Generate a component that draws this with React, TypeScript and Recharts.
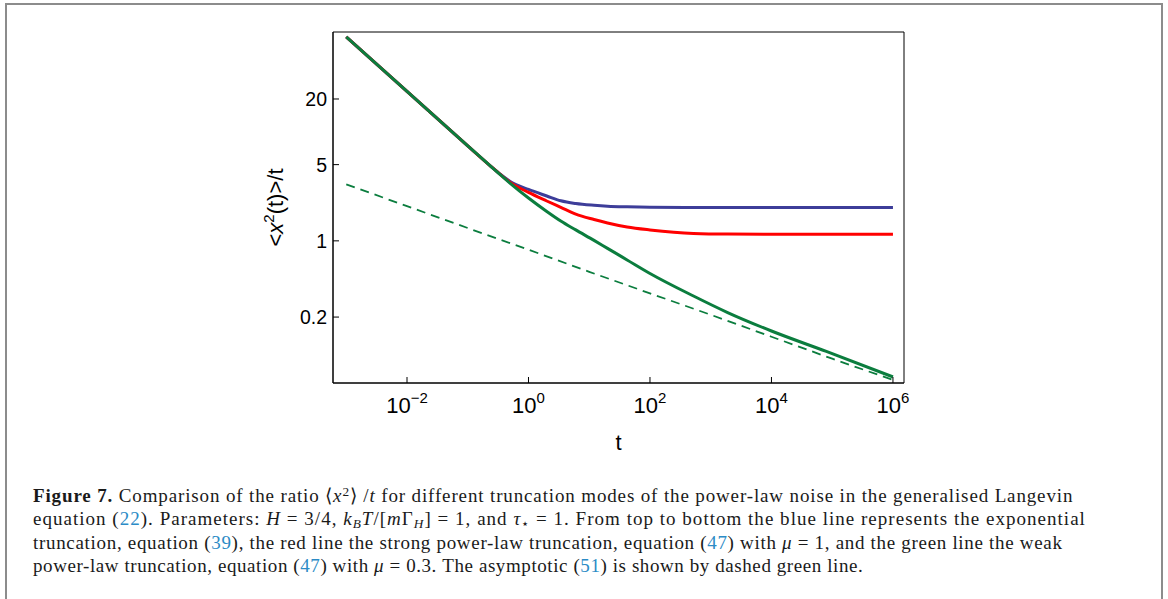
import React from "react";
import { LineChart, Line, XAxis, YAxis, ReferenceArea } from "recharts";

// time points (log spaced)
const tPoints = [0.001, 0.01, 0.1, 0.24, 0.35, 0.5, 1, 2, 3.4, 6, 12, 20, 42, 100, 520, 1900, 10000, 80000, 1000000];

// <x^2>/t for the three truncation modes
const blueExp = [74.1, 23.5, 7.43, 4.83, 4.06, 3.51, 2.96, 2.58, 2.33, 2.2, 2.12, 2.08, 2.05, 2.03, 2.02, 2.02, 2.02, 2.02, 2.02];
const redStrong = [74.1, 23.5, 7.43, 4.83, 4.03, 3.43, 2.78, 2.32, 2.03, 1.76, 1.57, 1.46, 1.34, 1.26, 1.17, 1.155, 1.152, 1.152, 1.152];
const greenWeak = [74.1, 23.5, 7.43, 4.83, 4.0, 3.37, 2.47, 1.86, 1.52, 1.26, 1.01, 0.853, 0.668, 0.502, 0.312, 0.22, 0.149, 0.0968, 0.0565];

// asymptotic (51), dashed
const asymT = [0.001, 0.01, 0.1, 1, 10, 100, 1000, 10000, 100000, 1000000];
const asymV = [3.3, 2.08, 1.31, 0.83, 0.52, 0.33, 0.21, 0.132, 0.083, 0.053];

const xTicks = [0.01, 1, 100, 10000, 1000000];
const yTicks = [0.2, 1, 5, 20];
const xDomain = [6.05e-4, 1.52e6];
const yDomain = [0.0497, 82.3];

const curves = tPoints.map((t, i) => ({
  t,
  blue: blueExp[i],
  red: redStrong[i],
  green: greenWeak[i],
}));
const asymData = asymT.map((t, i) => ({ t, asym: asymV[i] }));

const AXIS_FONT = "'Liberation Sans', Arial, sans-serif";
const SERIF = "'Liberation Serif', 'Times New Roman', serif";
const LINK = "#2b8bc6";

function XTick(props: any) {
  const { x, y, payload } = props;
  const exp = Math.round(Math.log10(payload.value));
  const sup = exp < 0 ? "\u2212" + Math.abs(exp) : String(exp);
  return (
    <g>
      <line x1={x} x2={x} y1={y} y2={y - 6} stroke="#000" strokeWidth={1} />
      <text x={x} y={y + 30} textAnchor="middle" fontFamily={AXIS_FONT} fontSize={22} fill="#000">
        <tspan>10</tspan>
        <tspan dy={-10} fontSize={15}>{sup}</tspan>
      </text>
    </g>
  );
}

function YTick(props: any) {
  const { x, y, payload } = props;
  return (
    <g>
      <line x1={x} x2={x + 6} y1={y} y2={y} stroke="#000" strokeWidth={1} />
      <text x={x - 6} y={y + 7} textAnchor="end" fontFamily={AXIS_FONT} fontSize={19.5} fill="#000">
        {String(payload.value)}
      </text>
    </g>
  );
}

function YTitle(props: any) {
  const vb = props.viewBox || { x: 273, y: 32, width: 60, height: 351 };
  const cx = vb.x + 10;
  const cy = vb.y + vb.height / 2;
  return (
    <text
      x={cx}
      y={cy}
      transform={`rotate(-90 ${cx} ${cy})`}
      textAnchor="middle"
      fontFamily={AXIS_FONT}
      fontSize={22}
      fill="#000"
    >
      <tspan>&lt;</tspan>
      <tspan fontStyle="italic">x</tspan>
      <tspan dy={-9} fontSize={15}>2</tspan>
      <tspan dy={9}>(t)&gt;/t</tspan>
    </text>
  );
}

const sup: React.CSSProperties = { fontSize: "0.7em", verticalAlign: "0.45em", lineHeight: 0 };
const sub: React.CSSProperties = { fontSize: "0.7em", verticalAlign: "-0.25em", lineHeight: 0 };
const lineBase: React.CSSProperties = {
  position: "absolute",
  left: 33,
  height: 23.3,
  lineHeight: "23.3px",
  whiteSpace: "nowrap",
};

function Caption() {
  const link = (s: string) => <span style={{ color: LINK }}>{s}</span>;
  return (
    <div style={{ fontFamily: SERIF, fontSize: 19, color: "#1a1a1a" }}>
      <div style={{ ...lineBase, top: 484, letterSpacing: "0.86px" }}>
        <b>Figure 7.</b> Comparison of the ratio ⟨<i>x</i><span style={sup}>2</span>⟩ /<i>t</i> for different
        truncation modes of the power-law noise in the generalised Langevin
      </div>
      <div style={{ ...lineBase, top: 507.3, letterSpacing: "1.02px" }}>
        equation ({link("22")}). Parameters: <i>H</i> = 3/4, <i>k</i>
        <span style={{ ...sub, fontStyle: "italic" }}>B</span>
        <i>T</i>/[<i>m</i>Γ<span style={{ ...sub, fontStyle: "italic" }}>H</span>] = 1, and <i>τ</i>
        <span style={sub}>⋆</span> = 1. From top to bottom the blue line represents the exponential
      </div>
      <div style={{ ...lineBase, top: 530.6, letterSpacing: "0.69px" }}>
        truncation, equation ({link("39")}), the red line the strong power-law truncation, equation ({link("47")}) with{" "}
        <i>μ</i> = 1, and the green line the weak
      </div>
      <div style={{ ...lineBase, top: 553.9, letterSpacing: "0.58px" }}>
        power-law truncation, equation ({link("47")}) with <i>μ</i> = 0.3. The asymptotic ({link("51")}) is shown by
        dashed green line.
      </div>
    </div>
  );
}

export default function App() {
  return (
    <div style={{ position: "absolute", left: 0, top: 0, width: 1168, height: 599, background: "#fff", overflow: "hidden" }}>
      <div
        style={{
          position: "absolute",
          left: 5,
          top: 3,
          width: 1154,
          height: 620,
          border: "2px solid #8c8c8c",
        }}
      />
      <div style={{ position: "absolute", left: 0, top: 0 }}>
        <LineChart width={1168} height={470} margin={{ top: 32, right: 264, bottom: 47, left: 273 }}>
          <XAxis
            dataKey="t"
            type="number"
            scale="log"
            domain={xDomain}
            allowDataOverflow
            ticks={xTicks}
            interval={0}
            tickSize={0}
            tickMargin={0}
            tick={<XTick />}
            height={40}
            axisLine={{ stroke: "#000" }}
            label={{ value: "t", position: "bottom", offset: 11, fill: "#000", fontSize: 22, fontFamily: AXIS_FONT }}
          />
          <YAxis
            type="number"
            scale="log"
            domain={yDomain}
            allowDataOverflow
            ticks={yTicks}
            interval={0}
            tickSize={0}
            tickMargin={0}
            tick={<YTick />}
            width={60}
            axisLine={{ stroke: "#000" }}
            label={<YTitle />}
          />
          <ReferenceArea
            x1={xDomain[0]}
            x2={xDomain[1]}
            y1={yDomain[0]}
            y2={yDomain[1]}
            fill="none"
            stroke="#000"
            strokeWidth={1}
            ifOverflow="visible"
          />
          <Line data={curves} dataKey="blue" type="monotone" stroke="#3d3d99" strokeWidth={3} dot={false} isAnimationActive={false} />
          <Line data={curves} dataKey="red" type="monotone" stroke="#ff0000" strokeWidth={3} dot={false} isAnimationActive={false} />
          <Line data={curves} dataKey="green" type="monotone" stroke="#0b7d3e" strokeWidth={3} dot={false} isAnimationActive={false} />
          <Line
            data={asymData}
            dataKey="asym"
            type="linear"
            stroke="#0b7d3e"
            strokeWidth={1.8}
            strokeDasharray="9 6"
            dot={false}
            isAnimationActive={false}
          />
        </LineChart>
      </div>
      <Caption />
    </div>
  );
}
